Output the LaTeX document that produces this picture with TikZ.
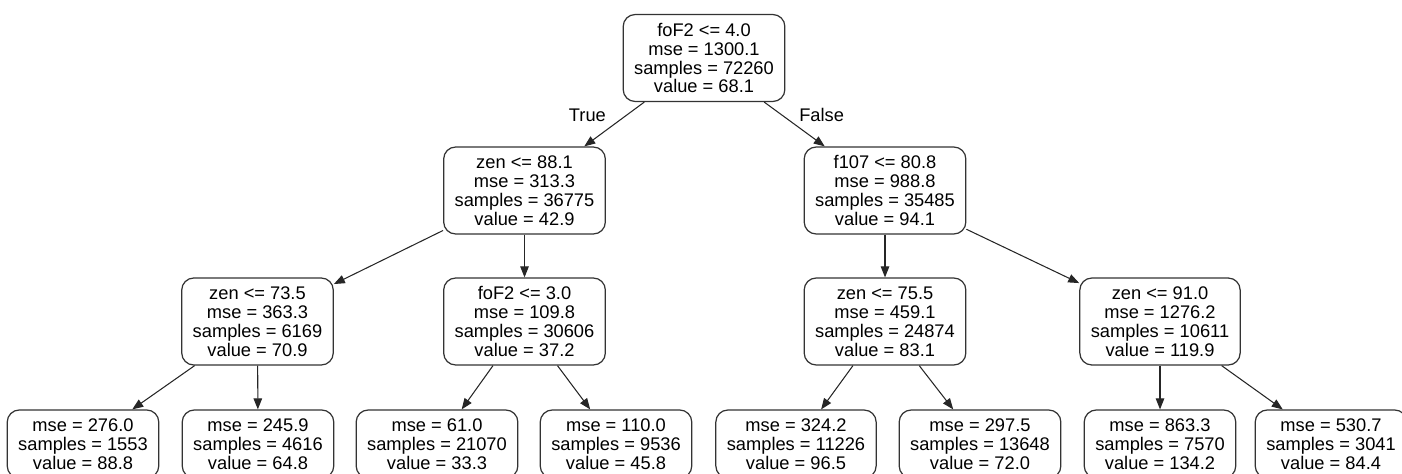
\documentclass[tikz,border=0pt]{standalone}
\usepackage{fontspec}
\setmainfont{Liberation Sans}
\usepackage{tikz}
\usetikzlibrary{arrows.meta}

\begin{document}
\begin{tikzpicture}[x=0.02cm,y=-0.02cm,
	tnode/.style={draw=black!80,line width=0.7pt,rounded corners=0.24cm,align=center,
		inner xsep=0.22cm,inner ysep=0pt,font=\fontsize{10.4}{10.8}\selectfont},
	split/.style={tnode,minimum height=1.74cm},
	leaf/.style={tnode,minimum height=1.36cm},
	edge/.style={draw=black!85,line width=0.6pt,-{Triangle[length=0.22cm,width=0.17cm]}}]
	\useasboundingbox (0,0) rectangle (1402,473);
	% root and first split
	\node[split] (root) at (704,58) {foF2 <= 4.0\\mse = 1300.1\\samples = 72260\\value = 68.1};
	\node[split] (zenA) at (524.5,190.5) {zen <= 88.1\\mse = 313.3\\samples = 36775\\value = 42.9};
	\node[split] (fA) at (885,190.5) {f107 <= 80.8\\mse = 988.8\\samples = 35485\\value = 94.1};
	% second level
	\node[split] (zenB) at (257.5,321.5) {zen <= 73.5\\mse = 363.3\\samples = 6169\\value = 70.9};
	\node[split] (foB) at (524.5,321.5) {foF2 <= 3.0\\mse = 109.8\\samples = 30606\\value = 37.2};
	\node[split] (zenC) at (885,321.5) {zen <= 75.5\\mse = 459.1\\samples = 24874\\value = 83.1};
	\node[split] (zenD) at (1160,321.5) {zen <= 91.0\\mse = 1276.2\\samples = 10611\\value = 119.9};
	% leaves
	\node[leaf] (l1) at (83,444) {mse = 276.0\\samples = 1553\\value = 88.8};
	\node[leaf] (l2) at (258,444) {mse = 245.9\\samples = 4616\\value = 64.8};
	\node[leaf] (l3) at (437,444) {mse = 61.0\\samples = 21070\\value = 33.3};
	\node[leaf] (l4) at (616,444) {mse = 110.0\\samples = 9536\\value = 45.8};
	\node[leaf] (l5) at (796,444) {mse = 324.2\\samples = 11226\\value = 96.5};
	\node[leaf] (l6) at (980,444) {mse = 297.5\\samples = 13648\\value = 72.0};
	\node[leaf] (l7) at (1160,444) {mse = 863.3\\samples = 7570\\value = 134.2};
	\node[leaf] (l8) at (1331,444) {mse = 530.7\\samples = 3041\\value = 84.4};
	% edges
	\draw[edge] (root) -- node[pos=0.3,left=8pt,font=\fontsize{10.4}{10.8}\selectfont] (t) {True} (zenA);
	\draw[edge] (root) -- node[pos=0.3,right=6pt,font=\fontsize{10.4}{10.8}\selectfont] (f) {False} (fA);
	\foreach \a/\b in {zenA/zenB,zenA/foB,fA/zenC,fA/zenD,zenB/l1,zenB/l2,foB/l3,foB/l4,zenC/l5,zenC/l6,zenD/l7,zenD/l8}
	\draw[edge] (\a) -- (\b);
\end{tikzpicture}
\end{document}
